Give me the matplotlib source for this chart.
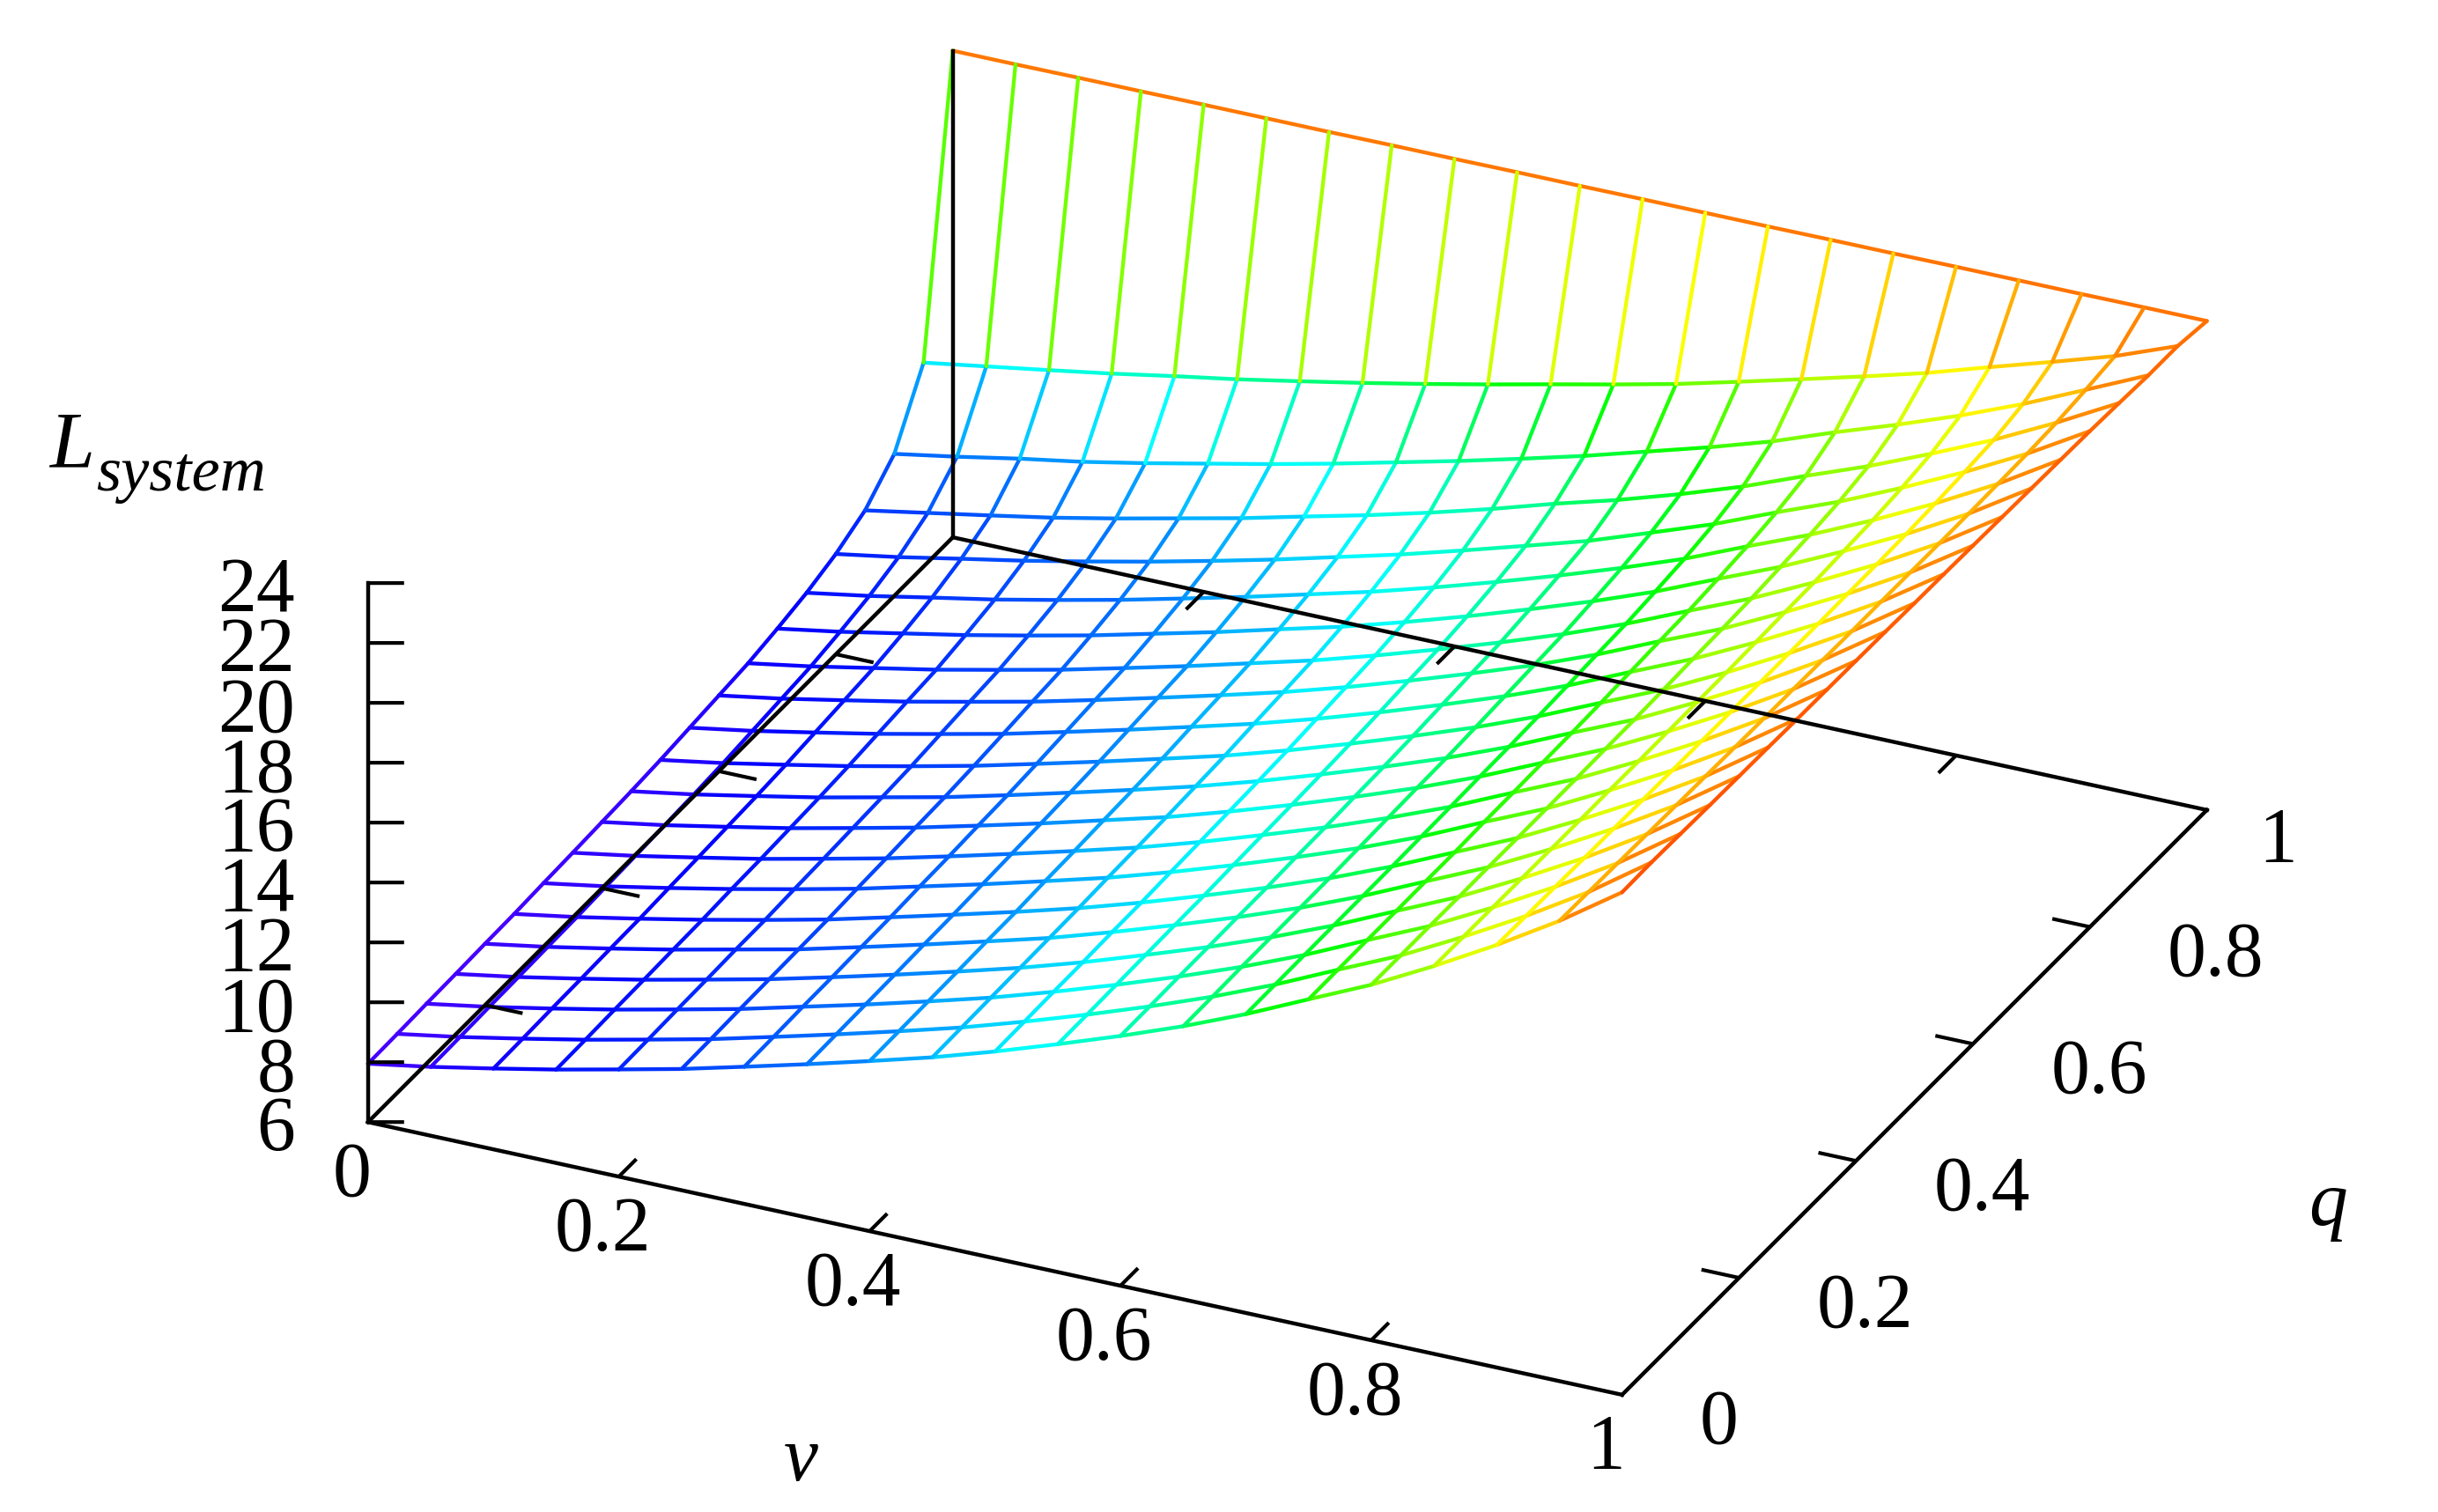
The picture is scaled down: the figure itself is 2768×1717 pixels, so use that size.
import numpy as np
import matplotlib
matplotlib.use('Agg')
import matplotlib.pyplot as plt
from matplotlib.colors import LinearSegmentedColormap, Normalize
from mpl_toolkits.mplot3d import proj3d
from mpl_toolkits.mplot3d.art3d import Line3DCollection

plt.rcParams['font.family'] = ['Liberation Serif']

###############################################################
# values: one row per q, one column per v
v_values = [i / 20 for i in range(21)]
q_values = [j / 20 for j in range(21)]

L_q000 = [7.95, 8.30, 8.70, 9.12, 9.58, 10.05, 10.58, 11.12, 11.68, 12.26, 12.91, 13.61, 14.34, 15.12, 15.98, 16.93, 17.87, 18.95, 20.11, 21.37, 22.78]
L_q005 = [7.97, 8.32, 8.72, 9.14, 9.60, 10.07, 10.60, 11.14, 11.70, 12.28, 12.93, 13.62, 14.35, 15.13, 15.99, 16.94, 17.87, 18.95, 20.10, 21.36, 22.80]
L_q010 = [8.00, 8.35, 8.75, 9.17, 9.63, 10.10, 10.63, 11.16, 11.72, 12.30, 12.95, 13.64, 14.37, 15.15, 16.00, 16.95, 17.88, 18.95, 20.10, 21.35, 22.78]
L_q015 = [8.02, 8.37, 8.77, 9.19, 9.65, 10.12, 10.64, 11.18, 11.74, 12.32, 12.96, 13.66, 14.38, 15.16, 16.01, 16.95, 17.88, 18.95, 20.09, 21.34, 22.76]
L_q020 = [8.05, 8.40, 8.80, 9.22, 9.68, 10.14, 10.67, 11.21, 11.77, 12.34, 12.99, 13.68, 14.40, 15.17, 16.02, 16.96, 17.89, 18.95, 20.09, 21.33, 22.75]
L_q025 = [8.07, 8.42, 8.82, 9.24, 9.69, 10.16, 10.69, 11.23, 11.78, 12.36, 13.00, 13.69, 14.41, 15.18, 16.03, 16.96, 17.89, 18.95, 20.08, 21.32, 22.74]
L_q030 = [8.12, 8.47, 8.87, 9.29, 9.74, 10.21, 10.74, 11.27, 11.83, 12.40, 13.04, 13.73, 14.45, 15.21, 16.05, 16.99, 17.90, 18.96, 20.08, 21.31, 22.72]
L_q035 = [8.16, 8.51, 8.91, 9.32, 9.78, 10.25, 10.77, 11.31, 11.86, 12.43, 13.07, 13.76, 14.47, 15.24, 16.07, 17.00, 17.91, 18.96, 20.08, 21.30, 22.71]
L_q040 = [8.21, 8.56, 8.96, 9.37, 9.83, 10.30, 10.82, 11.35, 11.91, 12.47, 13.11, 13.79, 14.51, 15.27, 16.10, 17.02, 17.93, 18.97, 20.08, 21.30, 22.70]
L_q045 = [8.26, 8.61, 9.01, 9.42, 9.88, 10.34, 10.86, 11.40, 11.95, 12.52, 13.15, 13.83, 14.54, 15.29, 16.12, 17.04, 17.94, 18.98, 20.08, 21.29, 22.69]
L_q050 = [8.33, 8.68, 9.08, 9.49, 9.94, 10.41, 10.93, 11.46, 12.01, 12.57, 13.20, 13.88, 14.59, 15.34, 16.16, 17.07, 17.97, 18.99, 20.09, 21.28, 22.67]
L_q055 = [8.43, 8.78, 9.18, 9.59, 10.04, 10.50, 11.02, 11.55, 12.10, 12.66, 13.28, 13.95, 14.66, 15.40, 16.21, 17.12, 18.01, 19.02, 20.10, 21.29, 22.66]
L_q060 = [8.53, 8.88, 9.28, 9.69, 10.14, 10.60, 11.11, 11.64, 12.18, 12.74, 13.36, 14.03, 14.73, 15.46, 16.27, 17.17, 18.04, 19.05, 20.12, 21.29, 22.64]
L_q065 = [8.63, 8.98, 9.38, 9.78, 10.23, 10.69, 11.20, 11.72, 12.27, 12.82, 13.44, 14.10, 14.79, 15.52, 16.32, 17.21, 18.08, 19.07, 20.13, 21.29, 22.62]
L_q070 = [8.81, 9.16, 9.56, 9.96, 10.40, 10.86, 11.37, 11.88, 12.43, 12.97, 13.58, 14.23, 14.92, 15.64, 16.42, 17.30, 18.16, 19.13, 20.16, 21.30, 22.60]
L_q075 = [9.03, 9.38, 9.78, 10.17, 10.61, 11.07, 11.57, 12.08, 12.62, 13.16, 13.76, 14.40, 15.07, 15.78, 16.54, 17.41, 18.25, 19.19, 20.21, 21.32, 22.58]
L_q080 = [9.35, 9.70, 10.10, 10.49, 10.92, 11.37, 11.85, 12.35, 12.89, 13.43, 14.02, 14.63, 15.25, 15.98, 16.72, 17.57, 18.38, 19.30, 20.28, 21.35, 22.56]
L_q085 = [9.83, 10.20, 10.57, 10.95, 11.38, 11.84, 12.30, 12.81, 13.31, 13.85, 14.43, 15.06, 15.64, 16.29, 17.00, 17.81, 18.59, 19.46, 20.38, 21.41, 22.52]
L_q090 = [10.74, 11.10, 11.49, 11.84, 12.25, 12.69, 13.13, 13.60, 14.10, 14.60, 15.13, 15.68, 16.28, 16.88, 17.53, 18.29, 19.00, 19.76, 20.60, 21.53, 22.47]
L_q095 = [12.81, 13.14, 13.47, 13.81, 14.18, 14.53, 14.92, 15.32, 15.74, 16.18, 16.64, 17.09, 17.56, 18.09, 18.63, 19.18, 19.75, 20.40, 21.03, 21.68, 22.47]
L_q100 = [22.25, 22.25, 22.26, 22.26, 22.27, 22.27, 22.27, 22.28, 22.28, 22.29, 22.29, 22.30, 22.30, 22.30, 22.31, 22.31, 22.32, 22.32, 22.32, 22.33, 22.33]

L_rows = [L_q000, L_q005, L_q010, L_q015, L_q020, L_q025, L_q030, L_q035, L_q040, L_q045, L_q050,
          L_q055, L_q060, L_q065, L_q070, L_q075, L_q080, L_q085, L_q090, L_q095, L_q100]

v_ticks = [0, 0.2, 0.4, 0.6, 0.8, 1]
q_ticks = [0, 0.2, 0.4, 0.6, 0.8, 1]
z_ticks = [6, 8, 10, 12, 14, 16, 18, 20, 22, 24]
v_labels = ['0', '0.2', '0.4', '0.6', '0.8', '1']
q_labels = ['0', '0.2', '0.4', '0.6', '0.8', '1']

# palette as seen on the wires
pal_z = [8, 8.9, 10, 11.5, 13.2, 15, 16.5, 18, 20, 22.3, 24]
pal_rgb = ['#4600ff', '#0000ff', '#003cff', '#0088ff', '#00ffff', '#00ff80',
           '#00ff00', '#80ff00', '#ffff00', '#ff7800', '#ff0000']

###############################################################
W, H = 2768, 1717
fig = plt.figure(figsize=(W / 100, H / 100), dpi=100, facecolor='white')
# gnuplot style view; the 3d box is placed so the corners land as in the picture
side = 2259
ax = fig.add_axes([301.7 / W, -234 / H, side / W, side / H], projection='3d',
                  proj_type='ortho', computed_zorder=False)
ax.view_init(elev=27.8, azim=-65)
ax.set_box_aspect((890, 890, 392))
ax.set_xlim(0, 1, view_margin=0)
ax.set_ylim(0, 1, view_margin=0)
ax.set_zlim(6, 24, view_margin=0)
ax.set_axis_off()

Z = np.array(L_rows)
V = np.array(v_values)
Q = np.array(q_values)

# wire segments, coloured by their mean height
segs = []
mids = []
for j in range(len(Q)):
    for i in range(len(V) - 1):
        segs.append([(V[i], Q[j], Z[j, i]), (V[i + 1], Q[j], Z[j, i + 1])])
        mids.append((Z[j, i] + Z[j, i + 1]) / 2)
for i in range(len(V)):
    for j in range(len(Q) - 1):
        segs.append([(V[i], Q[j], Z[j, i]), (V[i], Q[j + 1], Z[j + 1, i])])
        mids.append((Z[j, i] + Z[j + 1, i]) / 2)

lo, hi = pal_z[0], pal_z[-1]
cmap = LinearSegmentedColormap.from_list('wire', [((z - lo) / (hi - lo), c) for z, c in zip(pal_z, pal_rgb)])
norm = Normalize(lo, hi)
wire = Line3DCollection(segs, colors=cmap(norm(mids)), linewidths=3.1, capstyle='round', zorder=1)
ax.add_collection3d(wire)

# box and ticks
black = dict(color='black', lw=3.2, zorder=3, solid_capstyle='projecting')
thin = dict(color='black', lw=3.0, zorder=3, solid_capstyle='butt')
ax.plot([0, 1], [0, 0], [6, 6], **black)
ax.plot([1, 1], [0, 1], [6, 6], **black)
ax.plot([1, 0], [1, 1], [6, 6], **black)
ax.plot([0, 0], [1, 0], [6, 6], **black)
ax.plot([0, 0], [0, 0], [6, 24], **black)
ax.plot([0, 0], [1, 1], [6, Z[-1, 0]], **black)

ticklen = 0.03
for t in v_ticks[1:-1]:
    ax.plot([t, t], [0, ticklen], [6, 6], **thin)
    ax.plot([t, t], [1, 1 - ticklen], [6, 6], **thin)
for t in q_ticks[1:-1]:
    ax.plot([0, ticklen], [t, t], [6, 6], **thin)
    ax.plot([1, 1 - ticklen], [t, t], [6, 6], **thin)
# z ticks are level on the page: this step in v and q has no vertical part
for t in z_ticks:
    ax.plot([0, 0.0236], [0, 0.01105], [t, t], **thin)

S = W / 1568


def place(v, q, z, dx, dy, text, ha='center'):
    x2, y2, _ = proj3d.proj_transform(v, q, z, ax.get_proj())
    ax.annotate(text, (x2, y2), xytext=(dx * S, -dy * S), textcoords='offset pixels', ha=ha, va='center',
                fontsize=63, annotation_clip=False, zorder=5)


for t, s in zip(v_ticks, v_labels):
    place(t, 0, 6, -10.5, 35, s)
for t, s in zip(q_ticks, q_labels):
    # the last label sits closer in, as in the picture
    if s == '1':
        place(1, t, 6, 33, 21, s, ha='left')
    else:
        place(1, t, 6, 50, 19, s, ha='left')
for t in z_ticks:
    place(0, 0, t, -47, 6, str(t), ha='right')

fig.text(515 * S / W, 1 - 940 * S / H, 'v', fontsize=63, style='italic', ha='center', va='center')
fig.text(1497 * S / W, 1 - 776 * S / H, 'q', fontsize=63, style='italic', ha='center', va='center')
fig.text(32 * S / W, 1 - 300.5 * S / H, 'L', fontsize=66, style='italic', ha='left', va='baseline')
fig.text(62 * S / W, 1 - 315.5 * S / H, 'system', fontsize=52, style='italic', ha='left', va='baseline')

fig.savefig('out.png', dpi=100)
